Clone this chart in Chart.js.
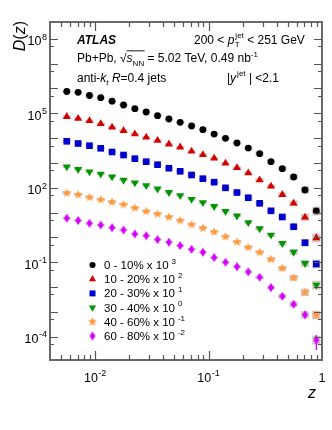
<!DOCTYPE html>
<html>
<head>
<meta charset="utf-8">
<script src="https://cdn.jsdelivr.net/npm/chart.js@4.4.0/dist/chart.umd.min.js"></script>
<style>
  html, body { margin:0; padding:0; background:#fff; }
  #wrap { width:332px; height:430px; }
</style>
</head>
<body>
<div id="wrap"><canvas id="c" width="332" height="430"></canvas></div>
<script>
// ── data ──
const zCenters = [0.00562,0.00708,0.00891,0.0112,0.0141,0.0178,0.0224,0.0282,0.0355,0.0447,0.0562,0.0708,0.0891,0.112,0.141,0.178,0.224,0.282,0.355,0.447,0.562,0.708,0.891];
const zEdges = [0.00501,0.00631,0.00794,0.0100,0.0126,0.0158,0.0200,0.0251,0.0316,0.0398,0.0501,0.0631,0.0794,0.100,0.126,0.158,0.200,0.251,0.316,0.398,0.501,0.631,0.794,1.0];

const d0_10  = [7.57e5,7.03e5,5.22e5,4.26e5,3.08e5,2.16e5,1.53e5,1.13e5,8.0e4,5.89e4,4.34e4,3.08e4,2.18e4,1.46e4,9.8e3,6.34e3,3.98e3,2.35e3,1.12e3,583,270,80.7,11.5];
const d10_20 = [7.29e4,6.17e4,4.99e4,3.77e4,2.72e4,1.99e4,1.46e4,1.08e4,8.0e3,5.68e3,4.30e3,2.94e3,2.12e3,1.53e3,964,634,392,204,114,52.2,23.5,6.4,0.94];
const d20_30 = [7.43e3,6.06e3,4.94e3,3.88e3,2.75e3,2.08e3,1.48e3,1.12e3,846,611,458,325,231,167,99,64,39.5,23.5,11.7,6.59,2.67,0.605,0.0838];
const d30_40 = [703,552,442,357,278,204,159,123,90.3,65.3,48.4,34.4,25.3,17.8,11.2,7.36,3.95,2.26,1.24,0.573,0.255,0.0895,0.0119];
const d40_60 = [61.1,52.2,41.0,32.8,26.5,21.0,15.2,11.2,8.71,6.59,4.75,3.28,2.37,1.64,1.06,0.646,0.395,0.248,0.130,0.0562,0.0235,0.00605,7.36e-4];
const d60_80 = [5.89,4.75,3.67,3.13,2.44,1.97,1.36,1.16,0.815,0.634,0.467,0.328,0.251,0.153,0.0982,0.0653,0.0406,0.0244,0.00946,0.00418,0.00199,7.5e-4,7.2e-5];

// relative systematic (grey boxes) per z bin, and stat error on the last bin of each series
const sysRel = [0.14,0.13,0.12,0.12,0.12,0.12,0.12,0.12,0.12,0.12,0.12,0.12,0.13,0.13,0.14,0.15,0.16,0.18,0.2,0.24,0.3,0.4,0.5];
const statRelLast = [0.03,0.05,0.08,0.12,0.2,0.6];

const centLabels = ['0 - 10%','10 - 20%','20 - 30%','30 - 40%','40 - 60%','60 - 80%'];
const scaleExps  = ['3','2','1','0','-1','-2'];
const colors = ['#000000','#d40000','#0000cc','#009600','#ff9a3c','#d600ff'];

const xTickVals = [0.01, 0.1, 1];
const xTickExps = ['-2','-1',''];
const yTickVals = [1e8, 1e5, 1e2, 1e-1, 1e-4];
const yTickExps = ['8','5','2','-1','-4'];

const FONT = '"Liberation Sans", Arial, Helvetica, sans-serif';

// ── custom markers ──
function starImg(color, r) {
  const s = Math.ceil(r*2)+2, c = document.createElement('canvas');
  c.width = c.height = s;
  const g = c.getContext('2d');
  g.fillStyle = color; g.beginPath();
  for (let k = 0; k < 10; k++) {
    const rr = k % 2 ? r*0.42 : r, a = -Math.PI/2 + k*Math.PI/5;
    g.lineTo(s/2 + rr*Math.cos(a), s/2 + rr*Math.sin(a));
  }
  g.closePath(); g.fill();
  return c;
}
function diamondImg(color, w, h) {
  const c = document.createElement('canvas');
  c.width = w+2; c.height = h+2;
  const g = c.getContext('2d'), cx = (w+2)/2, cy = (h+2)/2;
  g.fillStyle = color; g.beginPath();
  g.moveTo(cx, cy-h/2); g.lineTo(cx+w/2, cy); g.lineTo(cx, cy+h/2); g.lineTo(cx-w/2, cy);
  g.closePath(); g.fill();
  return c;
}

const markers = [
  {pointStyle:'circle',   radius:3.4, rotation:0},
  {pointStyle:'triangle', radius:4.6, rotation:0},
  {pointStyle:'rect',     radius:4.7, rotation:0},
  {pointStyle:'triangle', radius:4.6, rotation:180},
  {pointStyle:starImg(colors[4], 4.8), radius:5, rotation:0},
  {pointStyle:diamondImg(colors[5], 6, 9), radius:5, rotation:0},
];

const seriesVals = [d0_10, d10_20, d20_30, d30_40, d40_60, d60_80];

// ── rich text helper (super/subscripts) ──
function fontOf(p, size) {
  const sz = p.v ? Math.round(size*0.7) : size;
  return (p.i ? 'italic ' : '') + (p.b ? 'bold ' : '') + sz + 'px ' + FONT;
}
function drawRich(ctx, x, y, parts, size, align) {
  const ws = []; let total = 0;
  parts.forEach(p => {
    ctx.font = fontOf(p, size);
    const w = ctx.measureText(p.t).width; ws.push(w);
    if (!p.stay) total += w + (p.pre || 0);
  });
  let cx = align === 'right' ? x - total : align === 'center' ? x - total/2 : x;
  ctx.textAlign = 'left'; ctx.textBaseline = 'alphabetic';
  parts.forEach((p, i) => {
    cx += p.pre || 0;
    ctx.font = fontOf(p, size);
    const dy = p.v === 'sup' ? -size*0.45 : p.v === 'sub' ? size*0.3 : 0;
    ctx.fillText(p.t, cx, y + dy);
    if (p.over) {
      ctx.save(); ctx.lineWidth = 0.9; ctx.strokeStyle = ctx.fillStyle;
      ctx.beginPath(); ctx.moveTo(cx, y - size*0.93); ctx.lineTo(cx + ws[i] + 0.5, y - size*0.93); ctx.stroke();
      ctx.restore();
    }
    if (!p.stay) cx += ws[i];
  });
}

const decor = {
  id: 'decor',
  beforeDatasetsDraw(chart) {
    const {ctx, scales:{x, y}} = chart;
    ctx.save();
    // grey systematic boxes
    ctx.fillStyle = 'rgba(185,172,160,0.62)';
    seriesVals.forEach(vals => {
      vals.forEach((v, i) => {
        const x0 = x.getPixelForValue(zEdges[i]) + 1.5, x1 = x.getPixelForValue(zEdges[i+1]) - 1.5;
        const y0 = y.getPixelForValue(v*(1+sysRel[i])), y1 = y.getPixelForValue(v/(1+sysRel[i]));
        ctx.fillRect(x0, y0, x1-x0, Math.max(2, y1-y0));
      });
    });
    // stat error bars on the last bin
    seriesVals.forEach((vals, s) => {
      const n = vals.length-1, v = vals[n], r = statRelLast[s];
      const px = x.getPixelForValue(zCenters[n]);
      ctx.strokeStyle = colors[s]; ctx.lineWidth = 1.3;
      ctx.beginPath();
      ctx.moveTo(px, y.getPixelForValue(v*(1+r)));
      ctx.lineTo(px, y.getPixelForValue(Math.max(v*(1-r), 1e-9)));
      ctx.stroke();
    });
    ctx.restore();
  },
  afterDatasetsDraw(chart) {
    const {ctx, chartArea:a, scales:{x, y}} = chart;
    ctx.save();
    // frame
    ctx.strokeStyle = '#6a6a6a'; ctx.lineWidth = 2;
    ctx.strokeRect(a.left, a.top, a.right-a.left, a.bottom-a.top);
    // ticks (inward, on all four sides)
    ctx.strokeStyle = '#555'; ctx.lineWidth = 1.2;
    ctx.beginPath();
    for (let e = -3; e <= 0; e++) {
      for (let m = 1; m <= 9; m++) {
        const v = m * Math.pow(10, e);
        if (v < x.min * 1.0001 || v > x.max * 0.9999) continue;
        const px = Math.round(x.getPixelForValue(v)) + 0.5, len = m === 1 ? 9 : 5;
        ctx.moveTo(px, a.bottom); ctx.lineTo(px, a.bottom - len);
        ctx.moveTo(px, a.top); ctx.lineTo(px, a.top + len);
      }
    }
    for (let e = -5; e <= 8; e++) {
      [1, 5].forEach(m => {
        const v = m * Math.pow(10, e);
        if (v < y.min || v > y.max) return;
        const py = Math.round(y.getPixelForValue(v)) + 0.5, len = m === 1 ? 8 : 4;
        ctx.moveTo(a.left, py); ctx.lineTo(a.left + len, py);
        ctx.moveTo(a.right, py); ctx.lineTo(a.right - len, py);
      });
    }
    ctx.stroke();

    ctx.fillStyle = '#000';
    // x tick labels
    xTickVals.forEach((v, i) => {
      const px = x.getPixelForValue(v);
      const parts = xTickExps[i] ? [{t:'10'}, {t:xTickExps[i], v:'sup', pre:0.5}] : [{t:'1'}];
      drawRich(ctx, px, 382, parts, 12.5, 'center');
    });
    // y tick labels
    yTickVals.forEach((v, i) => {
      const py = y.getPixelForValue(v);
      drawRich(ctx, 47, py + 6.5, [{t:'10'}, {t:yTickExps[i], v:'sup', pre:0.5}], 12.5, 'right');
    });
    // axis titles
    ctx.save();
    ctx.translate(25, 21); ctx.rotate(-Math.PI/2);
    drawRich(ctx, 0, 0, [{t:'D', i:true}, {t:'('}, {t:'z', i:true}, {t:')'}], 16, 'right');
    ctx.restore();
    drawRich(ctx, 312, 398, [{t:'z', i:true}], 16, 'center');

    // annotation text
    drawRich(ctx, 77, 43.5, [{t:'ATLAS', b:true, i:true}], 12, 'left');
    drawRich(ctx, 194, 43.5, [{t:'200 < '}, {t:'p', i:true}, {t:'T', v:'sub', stay:true, pre:0.5}, {t:'jet', v:'sup', pre:0.5}, {t:' < 251 GeV'}], 12, 'left');
    drawRich(ctx, 77, 62, [{t:'Pb+Pb, '}, {t:'\u221A'}, {t:'s', i:true, over:true}, {t:'NN', v:'sub', over:true}, {t:' = 5.02 TeV, 0.49 nb'}, {t:'-1', v:'sup'}], 12, 'left');
    drawRich(ctx, 77, 81.5, [{t:'anti-'}, {t:'k', i:true}, {t:'t', v:'sub', i:true}, {t:' '}, {t:'R', i:true}, {t:'=0.4 jets'}], 12, 'left');
    drawRich(ctx, 227, 81.5, [{t:'|'}, {t:'y', i:true}, {t:'jet', v:'sup', pre:1}, {t:' | <2.1'}], 12, 'left');

    // legend
    centLabels.forEach((lab, s) => {
      const ly = 265 + s*14.2;
      ctx.fillStyle = colors[s]; ctx.strokeStyle = colors[s];
      const m = markers[s];
      Chart.helpers.drawPoint(ctx, {pointStyle:m.pointStyle, radius:m.radius*0.9, rotation:m.rotation, borderWidth:0}, 92.5, ly);
      ctx.fillStyle = '#000';
      drawRich(ctx, 104, ly + 4, [{t:lab + ' x 10'}, {t:scaleExps[s], v:'sup', pre:3}], 11.5, 'left');
    });
    ctx.restore();
  }
};

const datasets = seriesVals.map((vals, s) => ({
  label: centLabels[s],
  data: vals.map((v, i) => ({x: zCenters[i], y: v})),
  showLine: false,
  pointStyle: markers[s].pointStyle,
  pointRadius: markers[s].radius,
  pointRotation: markers[s].rotation,
  backgroundColor: colors[s],
  borderColor: colors[s],
  borderWidth: 0,
  pointHoverRadius: markers[s].radius
}));

new Chart(document.getElementById('c').getContext('2d'), {
  type: 'scatter',
  data: { datasets },
  options: {
    responsive: false, animation: false, devicePixelRatio: 1,
    layout: { padding: { left: 50, right: 10, top: 22, bottom: 70 } },
    plugins: { legend: { display: false }, tooltip: { enabled: false } },
    scales: {
      x: { type: 'logarithmic', min: 0.004, max: 1, display: false },
      y: { type: 'logarithmic', min: 1.13e-5, max: 4.8e8, display: false }
    }
  },
  plugins: [decor]
});
</script>
</body>
</html>
